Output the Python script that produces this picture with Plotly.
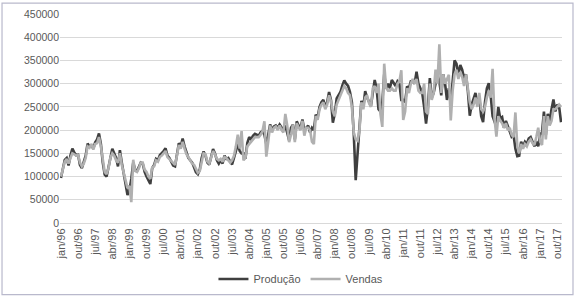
import plotly.graph_objects as go

MONTHS = ["jan", "fev", "mar", "abr", "mai", "jun", "jul", "ago", "set", "out", "nov", "dez"]
YEARS = list(range(1996, 2018))
categories = [f"{m}/{str(y)[2:]}" for y in YEARS for m in MONTHS]

producao = [
    # 1996
    97000, 120000, 136000, 140000, 124000, 145000, 160000, 152000, 146000, 147000, 125000, 118000,
    # 1997
    130000, 145000, 171000, 165000, 167000, 160000, 174000, 180000, 193000, 170000, 130000, 104000,
    # 1998
    100000, 120000, 145000, 160000, 150000, 140000, 122000, 157000, 130000, 104000, 80000, 60000,
    # 1999
    70000, 95000, 130000, 115000, 112000, 120000, 130000, 128000, 110000, 100000, 90000, 84000,
    # 2000
    118000, 125000, 138000, 135000, 146000, 150000, 155000, 161000, 145000, 140000, 130000, 124000,
    # 2001
    122000, 150000, 172000, 165000, 182000, 165000, 150000, 140000, 135000, 130000, 120000, 109000,
    # 2002
    105000, 115000, 140000, 154000, 145000, 130000, 126000, 145000, 159000, 150000, 135000, 128000,
    # 2003
    135000, 128000, 145000, 138000, 140000, 132000, 126000, 140000, 158000, 170000, 155000, 150000,
    # 2004
    150000, 138000, 172000, 185000, 180000, 188000, 192000, 190000, 188000, 195000, 198000, 190000,
    # 2005
    170000, 190000, 212000, 200000, 208000, 210000, 205000, 212000, 205000, 200000, 210000, 195000,
    # 2006
    178000, 205000, 212000, 180000, 219000, 210000, 205000, 223000, 200000, 205000, 210000, 195000,
    # 2007
    205000, 200000, 233000, 228000, 250000, 260000, 265000, 250000, 260000, 282000, 265000, 216000,
    # 2008
    235000, 268000, 275000, 282000, 296000, 307000, 300000, 295000, 282000, 260000, 192000, 92000,
    # 2009
    150000, 200000, 263000, 250000, 284000, 270000, 260000, 252000, 280000, 308000, 290000, 245000,
    # 2010
    240000, 260000, 320000, 290000, 300000, 290000, 308000, 300000, 295000, 305000, 300000, 265000,
    # 2011
    265000, 260000, 294000, 290000, 305000, 305000, 300000, 326000, 300000, 290000, 280000, 250000,
    # 2012
    214000, 250000, 312000, 270000, 280000, 300000, 319000, 305000, 275000, 320000, 300000, 265000,
    # 2013
    290000, 260000, 305000, 350000, 343000, 318000, 340000, 330000, 311000, 320000, 284000, 231000,
    # 2014
    255000, 270000, 280000, 255000, 270000, 230000, 217000, 260000, 290000, 301000, 275000, 230000,
    # 2015
    220000, 207000, 250000, 225000, 228000, 205000, 220000, 210000, 200000, 186000, 190000, 160000,
    # 2016
    144000, 145000, 175000, 165000, 175000, 170000, 182000, 185000, 175000, 165000, 175000, 165000,
    # 2017
    190000, 195000, 240000, 190000, 235000, 220000, 245000, 266000, 240000, 255000, 250000, 217000,
]

vendas = [
    # 1996
    100000, 115000, 132000, 138000, 128000, 140000, 150000, 148000, 145000, 146000, 130000, 122000,
    # 1997
    128000, 140000, 165000, 162000, 170000, 158000, 170000, 172000, 185000, 165000, 135000, 110000,
    # 1998
    105000, 118000, 140000, 150000, 145000, 135000, 130000, 150000, 125000, 110000, 90000, 75000,
    # 1999
    80000, 45000, 136000, 112000, 110000, 118000, 130000, 130000, 115000, 110000, 100000, 95000,
    # 2000
    120000, 122000, 135000, 132000, 142000, 145000, 150000, 155000, 142000, 138000, 132000, 128000,
    # 2001
    125000, 145000, 168000, 160000, 175000, 160000, 148000, 142000, 135000, 128000, 125000, 115000,
    # 2002
    108000, 112000, 135000, 150000, 148000, 132000, 128000, 140000, 155000, 148000, 138000, 135000,
    # 2003
    138000, 132000, 142000, 140000, 135000, 130000, 135000, 145000, 165000, 190000, 160000, 198000,
    # 2004
    135000, 140000, 165000, 170000, 175000, 180000, 185000, 185000, 185000, 190000, 198000, 219000,
    # 2005
    143000, 175000, 210000, 195000, 205000, 208000, 200000, 210000, 200000, 195000, 235000, 210000,
    # 2006
    174000, 190000, 212000, 174000, 215000, 205000, 200000, 220000, 188000, 205000, 205000, 200000,
    # 2007
    175000, 170000, 230000, 222000, 245000, 255000, 260000, 245000, 255000, 275000, 262000, 240000,
    # 2008
    230000, 255000, 265000, 275000, 285000, 295000, 290000, 280000, 275000, 250000, 195000, 180000,
    # 2009
    177000, 200000, 260000, 245000, 270000, 275000, 258000, 250000, 290000, 295000, 280000, 300000,
    # 2010
    235000, 207000, 343000, 291000, 285000, 285000, 290000, 285000, 285000, 300000, 305000, 329000,
    # 2011
    222000, 240000, 290000, 280000, 300000, 310000, 300000, 310000, 285000, 280000, 280000, 300000,
    # 2012
    240000, 235000, 300000, 265000, 280000, 330000, 300000, 385000, 280000, 320000, 300000, 310000,
    # 2013
    319000, 221000, 285000, 320000, 330000, 310000, 325000, 315000, 295000, 320000, 290000, 260000,
    # 2014
    245000, 255000, 270000, 250000, 280000, 245000, 240000, 250000, 270000, 285000, 270000, 332000,
    # 2015
    225000, 186000, 230000, 220000, 215000, 205000, 215000, 200000, 205000, 190000, 185000, 238000,
    # 2016
    165000, 150000, 170000, 160000, 170000, 165000, 175000, 180000, 172000, 168000, 185000, 205000,
    # 2017
    175000, 168000, 230000, 180000, 230000, 210000, 220000, 245000, 245000, 250000, 255000, 250000,
]

tick_labels = categories[::9]
y_ticks = list(range(0, 450001, 50000))

FONT = "Liberation Sans, Arial, sans-serif"
TXT = "#595959"

fig = go.Figure()
fig.add_trace(go.Scatter(
    x=categories, y=producao, mode="lines", name="Produção",
    line=dict(color="#3f3f3f", width=2.6),
))
fig.add_trace(go.Scatter(
    x=categories, y=vendas, mode="lines", name="Vendas",
    line=dict(color="#b0b0b0", width=2.6),
))

fig.update_layout(
    template="none",
    width=575, height=305,
    margin=dict(l=60, r=13, t=14, b=78, pad=0),
    paper_bgcolor="white", plot_bgcolor="white",
    font=dict(family=FONT, size=10, color=TXT),
    showlegend=True,
    legend=dict(
        orientation="h", x=0.48, xanchor="center", y=-0.268, yanchor="middle",
        font=dict(family=FONT, size=11, color=TXT),
        itemwidth=30, tracegroupgap=0, bgcolor="rgba(0,0,0,0)",
    ),
    xaxis=dict(
        type="category", categoryorder="array", categoryarray=categories,
        range=[-0.5, len(categories) - 0.5],
        tickmode="array", tickvals=tick_labels, ticktext=tick_labels,
        tickangle=-90, tickfont=dict(family=FONT, size=11, color=TXT),
        showgrid=False, showline=True, linecolor="#d9d9d9", linewidth=1,
        ticks="", zeroline=False, fixedrange=True, automargin=False,
    ),
    yaxis=dict(
        range=[0, 450000], tickmode="array", tickvals=y_ticks,
        tickformat="d", tickfont=dict(family=FONT, size=10.5, color=TXT),
        showgrid=True, gridcolor="#d9d9d9", gridwidth=1,
        zeroline=False, showline=False, ticks="", ticklen=0,
        fixedrange=True, automargin=False,
    ),
    shapes=[dict(
        type="rect", xref="paper", yref="paper",
        x0=-0.1155, x1=1.0219, y0=-0.3427, y1=1.0516,
        line=dict(color="#b9b9cc", width=1.2), fillcolor="rgba(0,0,0,0)",
        layer="below",
    )],
)

fig.write_html(
    "out.html",
    config={"displayModeBar": False},
    post_script="document.body.style.margin='0';document.body.style.overflow='hidden';",
)
